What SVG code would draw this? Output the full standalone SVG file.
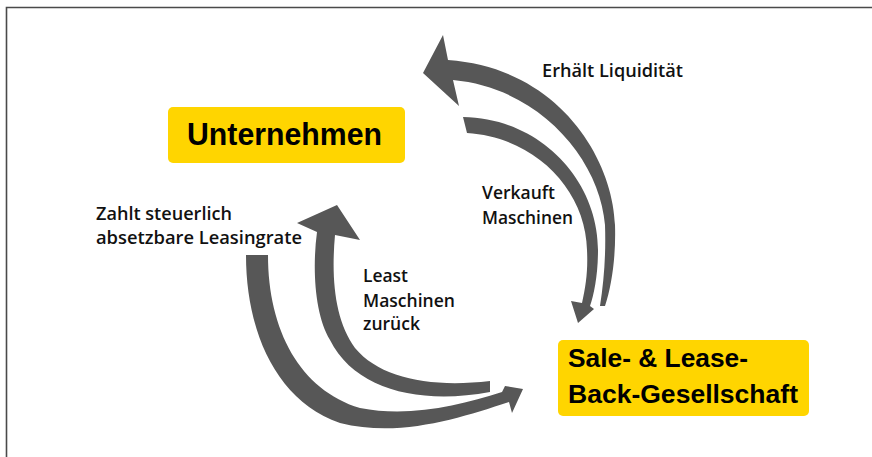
<svg xmlns="http://www.w3.org/2000/svg" width="872" height="457" viewBox="0 0 872 457">
<style>
.frame{fill:none;stroke:#4a4a4a;stroke-width:1.6}
.box{fill:#FFD500}
.arrow{fill:#575757}
.title{font-family:"Liberation Sans",Arial,sans-serif;font-weight:bold;fill:#000}
.lbl{font-family:"Open Sans","Liberation Sans",sans-serif;font-weight:600;font-size:17.5px;fill:#111}
</style>
<rect width="872" height="457" fill="#fff"/>
<path class="frame" d="M6.5,457 V7.5 H872"/>
<g id="connectors">
<path id="a-liquiditaet" class="arrow" d="M605,306 C612,285 616,255 615,225 C613,160 560,68 448,60 L443,35 L423,73 L459,106 L453,80 C540,88 600,160 605,225 C606,255 604,280 600,306 Z"/>
<path id="a-verkauft" class="arrow" d="M463,117 C540,118 598,180 598,250 C598,275 594,295 590,306 L594,309 L578,323 L571,301 L582,303 C586,285 588,270 587,250 C586,190 535,137 467,133 Z"/>
<path id="a-least" class="arrow" d="M490,392 C420,405 355,390 330,340 C315,315 312,270 317,232 L297,223 L337,205 L360,240 L335,235 C331,280 335,320 355,348 C380,378 430,388 490,381 Z"/>
<path id="a-zahlt" class="arrow" d="M246,255 C246,330 275,400 340,423 C400,438 460,418 509,402 L512,413 L523,389 L505,386 L502,392 C460,405 410,418 360,408 C300,390 268,330 268,255 Z"/>
</g>
<g id="n-unternehmen">
<rect class="box" x="168" y="107" width="237" height="56" rx="5"/>
<text class="title" x="187" y="145" font-size="31" textLength="195" lengthAdjust="spacingAndGlyphs">Unternehmen</text>
</g>
<g id="n-sale-lease-back">
<rect class="box" x="558" y="340" width="251" height="76" rx="5"/>
<text class="title" x="568" y="367" font-size="25" textLength="180" lengthAdjust="spacingAndGlyphs">Sale- &amp; Lease-</text>
<text class="title" x="568" y="403" font-size="25" textLength="230" lengthAdjust="spacingAndGlyphs">Back-Gesellschaft</text>
</g>
<g id="labels">
<text class="lbl" x="542" y="77" textLength="141" lengthAdjust="spacingAndGlyphs">Erhält Liquidität</text>
<text class="lbl" x="482" y="199" textLength="73" lengthAdjust="spacingAndGlyphs">Verkauft</text>
<text class="lbl" x="482" y="224" textLength="91" lengthAdjust="spacingAndGlyphs">Maschinen</text>
<text class="lbl" x="96" y="220" textLength="136" lengthAdjust="spacingAndGlyphs">Zahlt steuerlich</text>
<text class="lbl" x="96" y="244" textLength="206" lengthAdjust="spacingAndGlyphs">absetzbare Leasingrate</text>
<text class="lbl" x="363" y="282" textLength="45" lengthAdjust="spacingAndGlyphs">Least</text>
<text class="lbl" x="363" y="307" textLength="92" lengthAdjust="spacingAndGlyphs">Maschinen</text>
<text class="lbl" x="363" y="330" textLength="57" lengthAdjust="spacingAndGlyphs">zurück</text>
</g>
</svg>
